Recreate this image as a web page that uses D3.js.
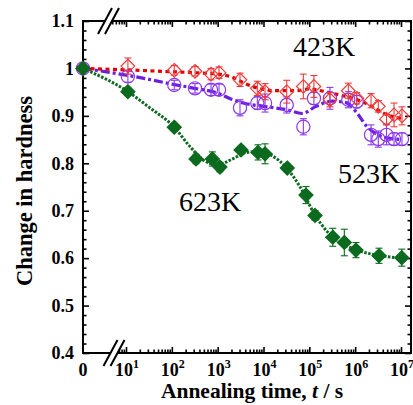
<!DOCTYPE html>
<html>
<head>
<meta charset="utf-8">
<script src="https://cdn.jsdelivr.net/npm/d3@7"></script>
<style>
  body { margin: 0; background: #fff; }
  text { font-family: "Liberation Serif", "Times New Roman", serif; }
</style>
</head>
<body>
<div id="chart"></div>
<script>
// annealing time (s), 0 = before annealing
const time423 = [0, 11, 113, 320, 716, 1070, 3070, 7330, 10800, 32100, 74000, 126000, 282000, 708000, 1080000, 2220000, 3200000, 4830000, 7050000, 10500000];
const hard423 = [1.0, 1.005, 0.996, 0.994, 0.988, 0.991, 0.976, 0.958, 0.951, 0.951, 0.962, 0.962, 0.934, 0.953, 0.937, 0.932, 0.920, 0.893, 0.902, 0.900];
const err423  = [0, 0.017, 0.01, 0.01, 0.012, 0.012, 0.014, 0.015, 0.017, 0.024, 0.026, 0.023, 0.015, 0.016, 0.012, 0.015, 0.012, 0.01, 0.025, 0.019];

const time523 = time423;
const hard523 = [1.0, 0.983, 0.965, 0.958, 0.955, 0.955, 0.917, 0.927, 0.927, 0.923, 0.877, 0.937, 0.937, 0.934, 0.930, 0.860, 0.851, 0.860, 0.851, 0.851];
const err523  = [0, 0.012, 0.01, 0.01, 0.012, 0.012, 0.017, 0.013, 0.019, 0.017, 0.017, 0.013, 0.023, 0.017, 0.013, 0.021, 0.017, 0.021, 0.013, 0.013];

const time623 = [0, 11, 113, 337, 764, 1120, 3230, 7590, 10800, 33000, 84500, 133000, 324000, 580000, 1040000, 3310000, 10400000];
const hard623 = [1.0, 0.951, 0.876, 0.809, 0.809, 0.792, 0.828, 0.823, 0.820, 0.790, 0.733, 0.690, 0.644, 0.633, 0.617, 0.605, 0.601];
const err623  = [0, 0.008, 0.008, 0.01, 0.015, 0.01, 0.008, 0.016, 0.021, 0.008, 0.018, 0.01, 0.019, 0.028, 0.016, 0.016, 0.018];

// guide curves drawn through the data
const fitT423 = [0, 10, 100, 316, 1000, 2000, 4000, 7900, 20000, 50000, 100000, 200000, 500000, 1260000, 2500000, 5000000, 10000000];
const fitH423 = [1.0, 0.997, 0.993, 0.991, 0.988, 0.982, 0.968, 0.958, 0.953, 0.953, 0.957, 0.952, 0.943, 0.932, 0.918, 0.902, 0.895];
const fitT523 = [0, 10, 32, 100, 316, 1000, 2000, 4000, 10000, 32000, 70000, 140000, 316000, 630000, 1120000, 1780000, 3160000, 6300000, 10000000];
const fitH523 = [1.0, 0.986, 0.977, 0.967, 0.958, 0.948, 0.935, 0.926, 0.92, 0.913, 0.905, 0.92, 0.931, 0.928, 0.905, 0.878, 0.86, 0.852, 0.85];
const fitT623 = [0, 11, 32, 113, 250, 500, 1000, 2000, 4000, 7900, 16000, 32000, 63000, 126000, 250000, 500000, 1000000, 3160000, 10000000];
const fitH623 = [1.0, 0.951, 0.918, 0.876, 0.835, 0.806, 0.797, 0.808, 0.822, 0.825, 0.815, 0.79, 0.75, 0.695, 0.655, 0.632, 0.618, 0.606, 0.6];

const yTicks = [0.4, 0.5, 0.6, 0.7, 0.8, 0.9, 1.0, 1.1];
const xDecades = [1e1, 1e2, 1e3, 1e4, 1e5, 1e6, 1e7];

const margin = { top: 21, right: 2, bottom: 52, left: 83 };
const width = 413 - margin.left - margin.right;
const height = 405 - margin.top - margin.bottom;

const svg = d3.select("#chart")
    .append("svg")
    .attr("width", 413)
    .attr("height", 405)
    .append("g")
    .attr("transform", `translate(${margin.left},${margin.top})`);

const y = d3.scaleLinear().domain([0.4, 1.1]).range([height, 0]);
const xLog = d3.scaleLog().domain([10, 1e7]).range([43, 318]);
const x = t => t === 0 ? 0 : xLog(t);

// minor ticks
const yMinor = d3.range(0.4, 1.1001, 0.02).filter(v => Math.abs(v * 10 - Math.round(v * 10)) > 1e-6);
const xMinor = [5, 6, 7, 8, 9];
for (let d = 1; d < 7; d++) for (let m = 2; m <= 9; m++) xMinor.push(m * Math.pow(10, d));

// y axes (inward ticks)
svg.append("g").call(d3.axisLeft(y).tickValues(yMinor).tickSize(-3.5).tickFormat(""));
svg.append("g").call(d3.axisLeft(y).tickValues(yTicks).tickSize(-6).tickPadding(9)
    .tickFormat(d => d === 1 ? "1" : d3.format(".1f")(d)))
    .selectAll("text").style("font-size", "18px").style("font-weight", "bold")
    .style("font-family", "'Liberation Serif', serif").attr("fill", "#000");
svg.append("g").attr("transform", `translate(${width},0)`)
    .call(d3.axisRight(y).tickValues(yMinor).tickSize(-3.5).tickFormat(""));
svg.append("g").attr("transform", `translate(${width},0)`)
    .call(d3.axisRight(y).tickValues(yTicks).tickSize(-6).tickFormat(""));

// x axes (inward ticks), drawn with the log scale
svg.append("g").attr("transform", `translate(0,${height})`)
    .call(d3.axisBottom(xLog).tickValues(xMinor).tickSize(-3.5).tickFormat(""));
svg.append("g").attr("transform", `translate(0,${height})`)
    .call(d3.axisBottom(xLog).tickValues(xDecades).tickSize(-6).tickFormat(""));
svg.append("g").call(d3.axisTop(xLog).tickValues(xMinor).tickSize(-3.5).tickFormat(""));
svg.append("g").call(d3.axisTop(xLog).tickValues(xDecades).tickSize(-6).tickFormat(""));

svg.selectAll(".domain").remove();
svg.selectAll(".tick line").attr("stroke", "#000").attr("stroke-width", 1.6);

// frame
svg.append("rect")
    .attr("width", width).attr("height", height)
    .attr("fill", "none").attr("stroke", "#000").attr("stroke-width", 2);

// x labels
const xl = svg.append("g").attr("font-weight", "bold").attr("font-size", 18);
xl.append("text").attr("x", x(0)).attr("y", height + 23).attr("text-anchor", "middle").text("0");
xDecades.forEach(t => {
    const lab = xl.append("text").attr("x", xLog(t) + 1).attr("y", height + 23).attr("text-anchor", "middle");
    lab.append("tspan").text("10");
    lab.append("tspan").attr("dy", -8).attr("font-size", 12).text(Math.round(Math.log10(t)));
});

// axis break marks
function breakMark(cx, cy) {
    const g = svg.append("g");
    g.append("path")
        .attr("d", `M${cx - 10},${cy + 13} L${cx + 4},${cy - 13} L${cx + 10},${cy - 13} L${cx - 4},${cy + 13} Z`)
        .attr("fill", "#fff");
    [-3.5, 3.5].forEach(o => {
        g.append("line")
            .attr("x1", cx + o - 7).attr("y1", cy + 13)
            .attr("x2", cx + o + 7).attr("y2", cy - 13)
            .attr("stroke", "#000").attr("stroke-width", 2);
    });
}
breakMark(25.5, 0);
breakMark(31, height);

// axis titles
const xt = svg.append("text")
    .attr("x", 169).attr("y", height + 45)
    .attr("text-anchor", "middle").attr("font-weight", "bold").attr("font-size", 21.5);
xt.append("tspan").text("Annealing time, ");
xt.append("tspan").attr("font-style", "italic").text("t");
xt.append("tspan").text(" / s");

svg.append("text")
    .attr("transform", `translate(${-51},${y(0.75) + 4}) rotate(-90)`)
    .attr("text-anchor", "middle").attr("font-weight", "bold").attr("font-size", 22.5)
    .text("Change in hardness");

// series
const series = [
    { t: time523, h: hard523, e: err523, ft: fitT523, fh: fitH523, color: "#8a38f0", line: "#6a1ee0",
      dash: "9,3,3,3", lw: 3.2, mark: "circle" },
    { t: time423, h: hard423, e: err423, ft: fitT423, fh: fitH423, color: "#f03a3a", line: "#e00000",
      dash: "4,3.5", lw: 3.2, mark: "open" },
    { t: time623, h: hard623, e: err623, ft: fitT623, fh: fitH623, color: "#0b6a1e", line: "#0b6a1e",
      dash: "2.5,1.5", lw: 3, mark: "filled" }
];

const line = d3.line().x(d => x(d[0])).y(d => y(d[1])).curve(d3.curveMonotoneX);

series.forEach(s => {
    svg.append("path")
        .datum(s.ft.map((t, i) => [t, s.fh[i]]))
        .attr("d", line)
        .attr("fill", "none")
        .attr("stroke", s.line)
        .attr("stroke-width", s.lw)
        .attr("stroke-dasharray", s.dash);
});

const diamond = r => `M0,${-r} L${r},0 L0,${r} L${-r},0 Z`;

series.forEach(s => {
    const pts = s.t.map((t, i) => ({ t: t, h: s.h[i], e: s.e[i] }));
    const g = svg.append("g");
    const eb = g.selectAll(".eb").data(pts.filter(d => d.e > 0)).enter().append("g")
        .attr("stroke", s.color).attr("stroke-width", 1.1);
    eb.append("line").attr("x1", d => x(d.t)).attr("x2", d => x(d.t))
        .attr("y1", d => y(d.h + d.e)).attr("y2", d => y(d.h - d.e));
    eb.append("line").attr("x1", d => x(d.t) - 3.5).attr("x2", d => x(d.t) + 3.5)
        .attr("y1", d => y(d.h + d.e)).attr("y2", d => y(d.h + d.e));
    eb.append("line").attr("x1", d => x(d.t) - 3.5).attr("x2", d => x(d.t) + 3.5)
        .attr("y1", d => y(d.h - d.e)).attr("y2", d => y(d.h - d.e));

    if (s.mark === "circle") {
        g.selectAll(".m").data(pts).enter().append("circle")
            .attr("cx", d => x(d.t)).attr("cy", d => y(d.h)).attr("r", 6.6)
            .attr("fill", "none").attr("stroke", s.color).attr("stroke-width", 1.2);
    } else {
        g.selectAll(".m").data(pts).enter().append("path")
            .attr("transform", d => `translate(${x(d.t)},${y(d.h)})`)
            .attr("d", diamond(s.mark === "filled" ? 7 : 6.8))
            .attr("fill", s.mark === "filled" ? s.color : "none")
            .attr("stroke", s.color).attr("stroke-width", 1.2);
    }
});

// temperature labels
const lab = svg.append("g").attr("font-size", 28);
lab.append("text").attr("x", 210).attr("y", 35).text("423K");
lab.append("text").attr("x", 255).attr("y", 162).text("523K");
lab.append("text").attr("x", 96).attr("y", 190).text("623K");
</script>
</body>
</html>
